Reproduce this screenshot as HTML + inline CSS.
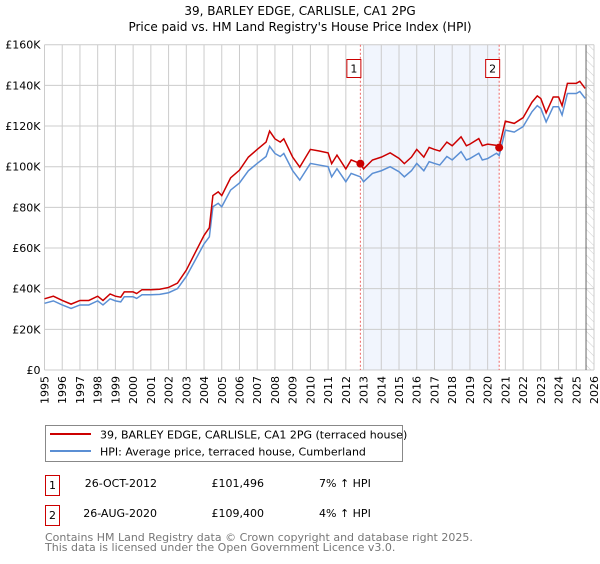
<!DOCTYPE html>
<html><head><meta charset="utf-8">
<style>
body{margin:0;background:#fff;width:600px;height:560px;overflow:hidden;font-family:"DejaVu Sans","Liberation Sans",sans-serif;}
svg text{font-family:"DejaVu Sans","Liberation Sans",sans-serif;}
</style></head>
<body>
<svg id="chart" width="600" height="560" viewBox="0 0 600 560" xmlns="http://www.w3.org/2000/svg">
<text x="300" y="15" text-anchor="middle" font-size="12">39, BARLEY EDGE, CARLISLE, CA1 2PG</text>
<text x="300" y="31" text-anchor="middle" font-size="12">Price paid vs. HM Land Registry's House Price Index (HPI)</text>
<defs><pattern id="hatch" width="6" height="6" patternUnits="userSpaceOnUse" patternTransform="rotate(-45)"><line x1="0" y1="0" x2="0" y2="6" stroke="#ccc" stroke-width="1"/></pattern></defs>
<g id="grid"></g>
<g id="marks"></g>
<g id="axes"></g>
<g>
<rect x="45.5" y="425.5" width="357" height="36" fill="#fff" stroke="#888"/>
<line x1="50" y1="434" x2="91" y2="434" stroke="#cc0000" stroke-width="2"/>
<text x="100" y="438.5" font-size="11">39, BARLEY EDGE, CARLISLE, CA1 2PG (terraced house)</text>
<line x1="50" y1="451" x2="91" y2="451" stroke="#5b8fd4" stroke-width="2"/>
<text x="100" y="455.5" font-size="11">HPI: Average price, terraced house, Cumberland</text>
</g>
<g font-size="11">
<rect x="45.5" y="475.5" width="14" height="20" fill="#fff" stroke="#cc0000"/>
<text x="52.5" y="489" text-anchor="middle">1</text>
<text x="157" y="487" text-anchor="end">26-OCT-2012</text>
<text x="264" y="487" text-anchor="end">£101,496</text>
<text x="319" y="487">7% ↑ HPI</text>
<rect x="45.5" y="505.5" width="14" height="20" fill="#fff" stroke="#cc0000"/>
<text x="52.5" y="519" text-anchor="middle">2</text>
<text x="157" y="517" text-anchor="end">26-AUG-2020</text>
<text x="264" y="517" text-anchor="end">£109,400</text>
<text x="319" y="517">4% ↑ HPI</text>
</g>
<text x="45" y="541" font-size="11" fill="#777">Contains HM Land Registry data © Crown copyright and database right 2025.</text>
<text x="45" y="551" font-size="11" fill="#777">This data is licensed under the Open Government Licence v3.0.</text>
</svg>
<script>
const years=[1995.0,1995.5,1996.0,1996.5,1997.0,1997.5,1998.0,1998.3,1998.7,1999.0,1999.3,1999.5,2000.0,2000.2,2000.5,2001.0,2001.5,2002.0,2002.5,2003.0,2003.5,2004.0,2004.3,2004.5,2004.8,2005.0,2005.5,2006.0,2006.5,2007.0,2007.5,2007.7,2008.0,2008.3,2008.5,2009.0,2009.4,2010.0,2010.5,2011.0,2011.2,2011.5,2012.0,2012.3,2012.82,2013.0,2013.5,2014.0,2014.5,2015.0,2015.3,2015.7,2016.0,2016.4,2016.7,2017.0,2017.3,2017.7,2018.0,2018.5,2018.8,2019.0,2019.5,2019.7,2020.0,2020.5,2020.65,2021.0,2021.5,2022.0,2022.5,2022.8,2023.0,2023.3,2023.7,2024.0,2024.2,2024.5,2025.0,2025.2,2025.5];
const hpi=[32.8,34,32,30.3,32,32,34,32,35,34,33.5,36,36,35.2,37,37,37.2,38,40,46,54,62,65.5,80.3,82,80.3,88.5,92,98,101.6,105,110,106.5,105,106.5,98,93.4,101.6,100.8,100,95,99,92.6,96.7,95,92.6,96.7,98,100,97.5,95,98,101.6,98,102.5,101.6,100.8,105,103.3,107.4,103.3,104,106.6,103.3,104,106.6,105.5,118,117,119.7,127,130,128.7,122,129.5,129.5,125.4,136,136,137,133.6];
const price=[35.0,36.3,34.2,32.4,34.2,34.2,36.3,34.2,37.4,36.3,35.8,38.4,38.4,37.6,39.5,39.5,39.7,40.6,42.7,49.1,57.7,66.2,70,85.8,87.6,85.8,94.5,98.3,104.7,108.5,112.1,117.5,113.7,112.1,113.7,104.7,99.8,108.5,107.7,106.8,101.5,105.7,98.9,103.3,101.5,98.9,103.3,104.7,106.8,104.1,101.5,104.7,108.5,104.7,109.5,108.5,107.7,112.1,110.3,114.7,110.3,111.1,113.8,110.3,111.1,110.5,109.4,122.4,121.3,124.1,131.7,134.8,133.5,126.5,134.3,134.3,130,141,141,142,138.5];
const saleYears=[2012.82,2020.65];
const salePrices=[101.496,109.4];
const saleLabels=["1","2"];
const yTicks=[0,20,40,60,80,100,120,140,160];
const yTickLabels=["£0","£20K","£40K","£60K","£80K","£100K","£120K","£140K","£160K"];
const xTicks=[1995,1996,1997,1998,1999,2000,2001,2002,2003,2004,2005,2006,2007,2008,2009,2010,2011,2012,2013,2014,2015,2016,2017,2018,2019,2020,2021,2022,2023,2024,2025,2026];

const L=44.5,R=594,T=44.7,B=370;
const x=v=>L+(v-1995)*(R-L)/31;
const y=v=>B-v*(B-T)/160;
const NS="http://www.w3.org/2000/svg";
function mk(tag,attrs,parent){const e=document.createElementNS(NS,tag);for(const k in attrs)e.setAttribute(k,attrs[k]);parent.appendChild(e);return e;}
const grid=document.getElementById('grid'),marks=document.getElementById('marks'),axes=document.getElementById('axes');

const shade=mk('rect',{x:x(2013),y:T,width:x(saleYears[1])-x(2013),height:B-T,fill:'#eef3fc',opacity:0.8},grid);


const hatch=mk('rect',{x:x(2025.55),y:T,width:R-x(2025.55),height:B-T,fill:'url(#hatch)'},grid);


xTicks.forEach(t=>{const l=mk('line',{x1:x(t),x2:x(t),y1:T,y2:B,stroke:'#ccc','stroke-width':1},grid);


const tx=mk('text',{x:0,y:0,'font-size':11,'text-anchor':'end',transform:`translate(${x(t)+4},${B+6}) rotate(-90)`},axes);tx.textContent=t;

});
yTicks.forEach((t,i)=>{const l=mk('line',{x1:L,x2:R,y1:y(t),y2:y(t),stroke:'#ccc','stroke-width':1},grid);


const tx=mk('text',{x:L-4,y:y(t)+4,'font-size':11,'text-anchor':'end'},axes);tx.textContent=yTickLabels[i];

});
const nowLine=mk('line',{x1:x(2025.55),x2:x(2025.55),y1:T,y2:B,stroke:'#666','stroke-width':1},grid);



saleYears.forEach((s,i)=>{const d=mk('line',{x1:x(s),x2:x(s),y1:T,y2:B,stroke:'#e66','stroke-width':1,'stroke-dasharray':'2,2'},marks);


const bx=mk('rect',{x:x(s)-13.5,y:59.5,width:14,height:18,fill:'#fff',stroke:'#cc0000'},marks);


const tx=mk('text',{x:x(s)-6.5,y:72.5,'font-size':11,'text-anchor':'middle'},marks);tx.textContent=saleLabels[i];

});

const hp=mk('polyline',{points:years.map((t,i)=>x(t)+','+y(hpi[i])).join(' '),fill:'none',stroke:'#5b8fd4','stroke-width':1.5},marks);


const pp=mk('polyline',{points:years.map((t,i)=>x(t)+','+y(price[i])).join(' '),fill:'none',stroke:'#cc0000','stroke-width':1.5},marks);


saleYears.forEach((s,i)=>{const c=mk('circle',{cx:x(s),cy:y(salePrices[i]),r:4,fill:'#cc0000'},marks);

});
</script>
</body></html>
